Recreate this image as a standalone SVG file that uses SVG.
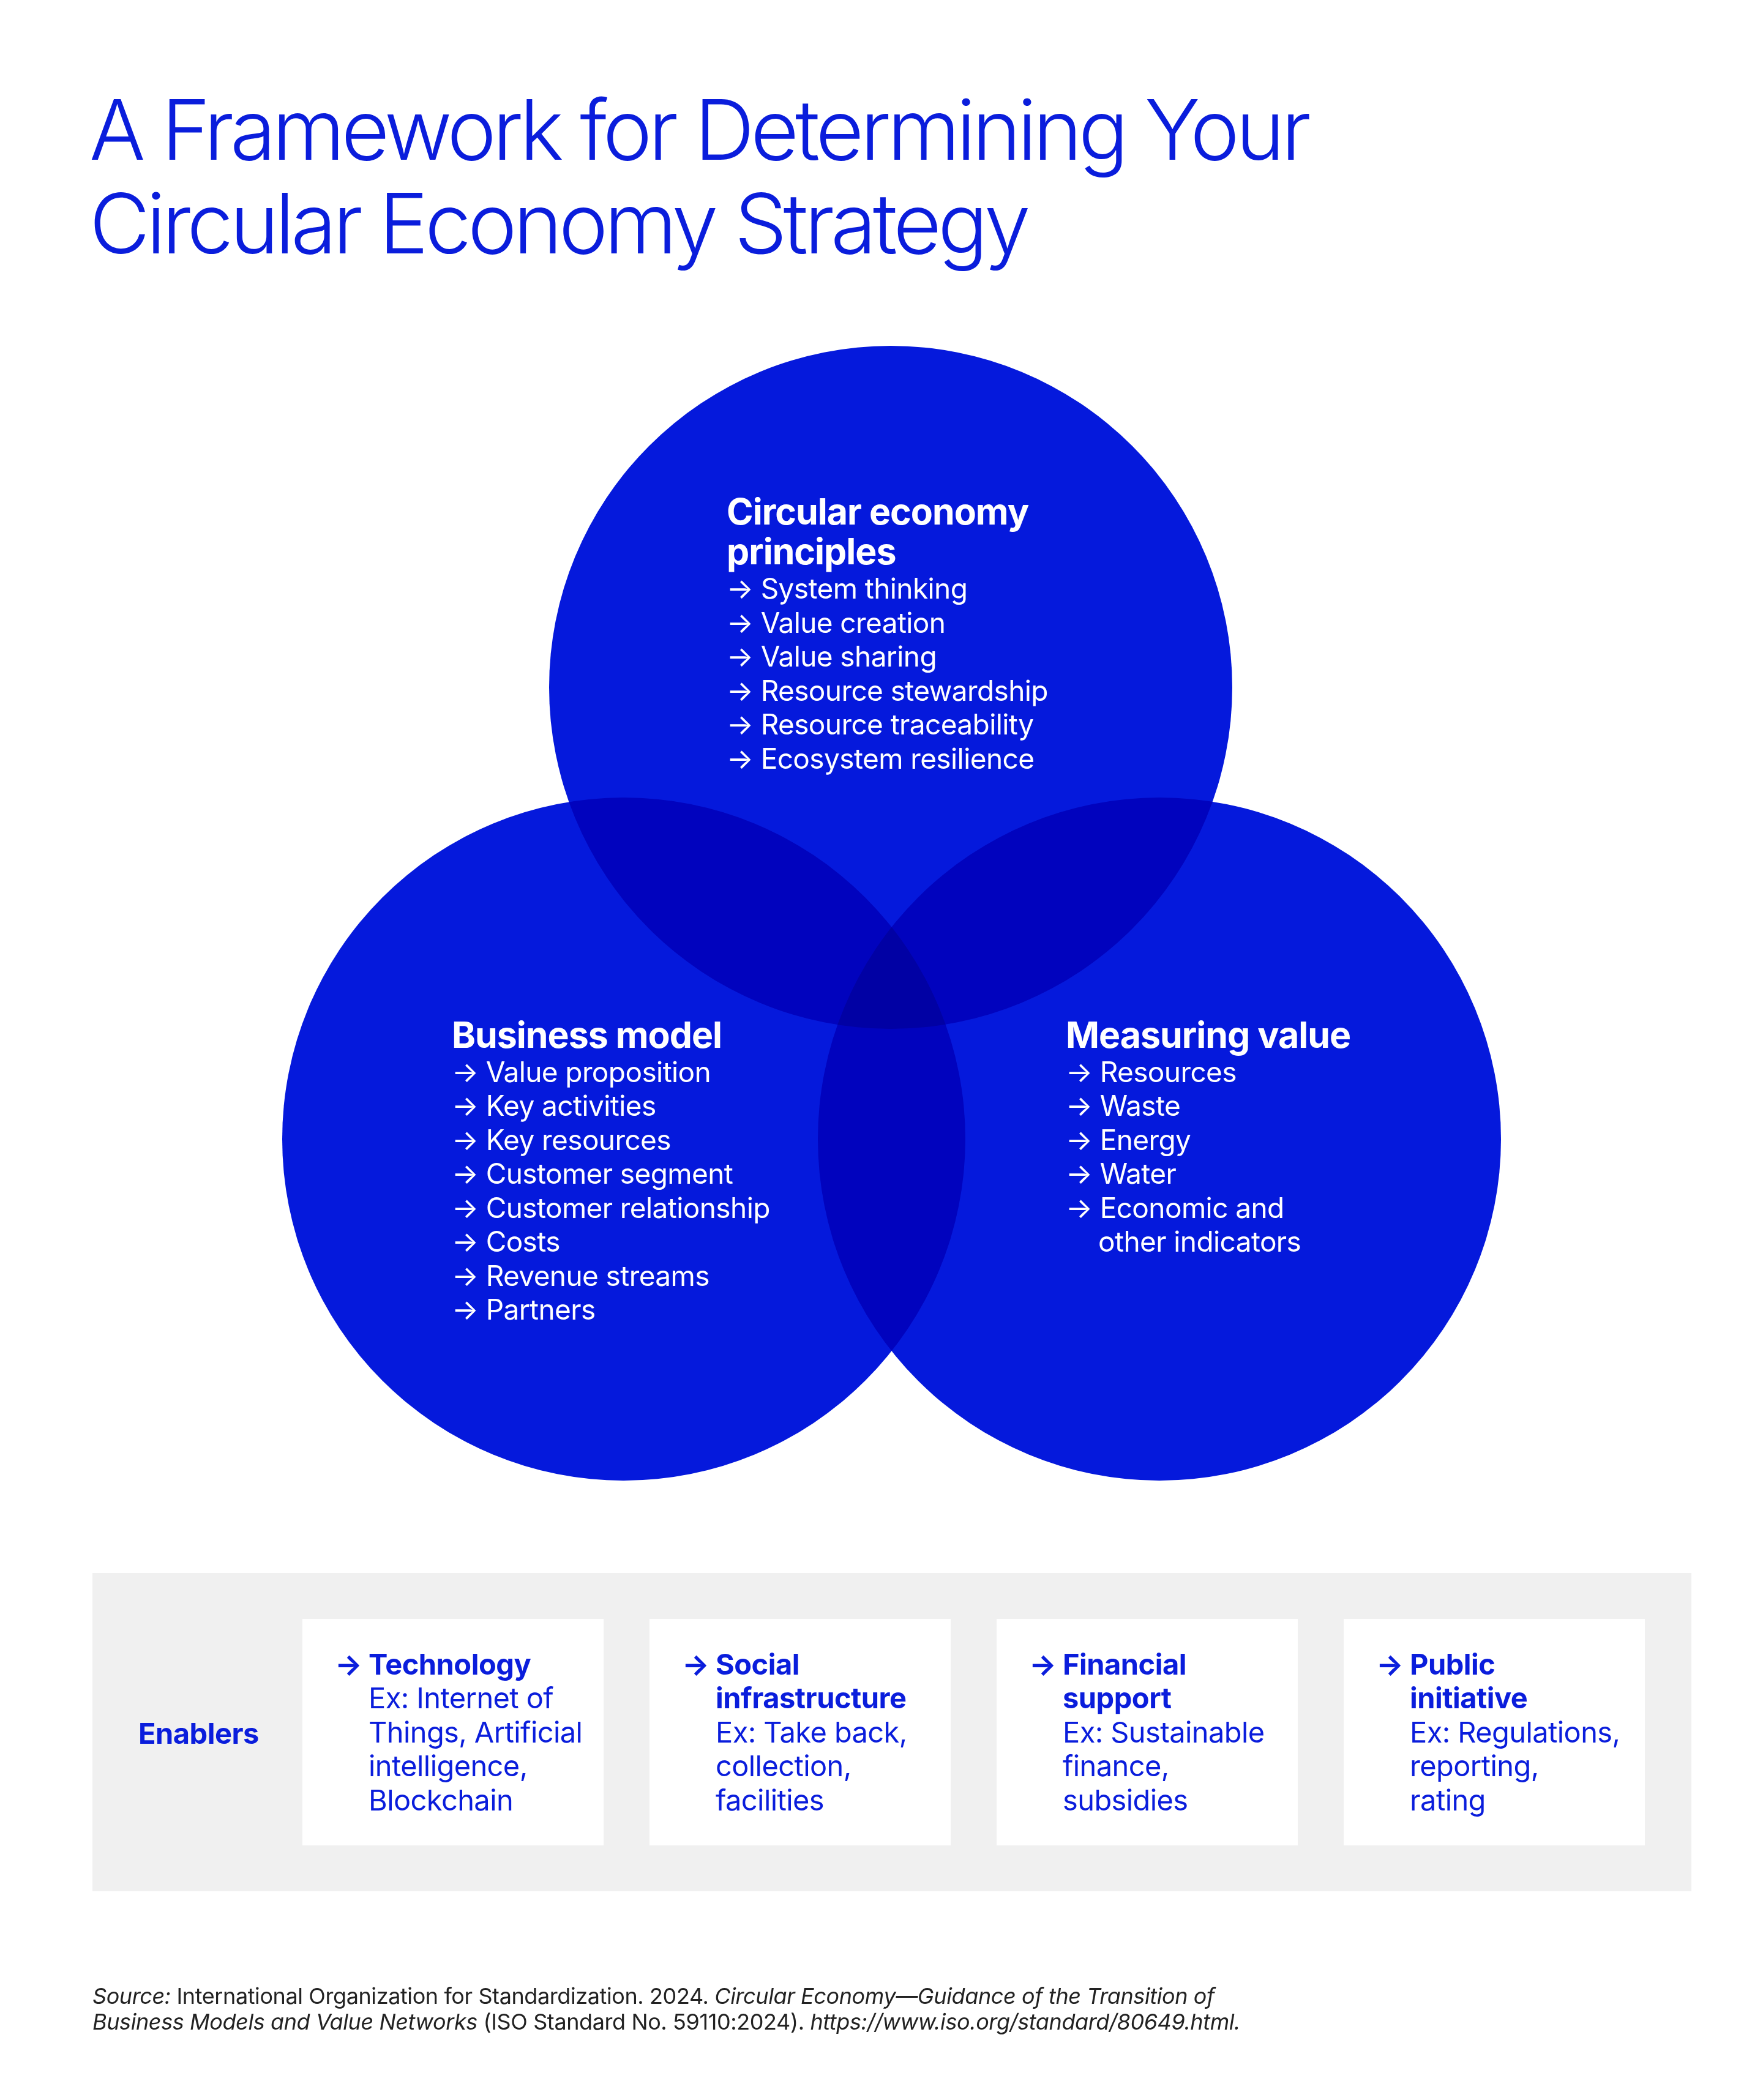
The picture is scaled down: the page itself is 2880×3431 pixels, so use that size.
<svg xmlns="http://www.w3.org/2000/svg" width="2880" height="3431" viewBox="0 0 2880 3431">
<style>
text{font-family:Inter,"Liberation Sans","DejaVu Sans",sans-serif}
.t{font-size:136px;font-weight:300;fill:#0a1ddc;letter-spacing:-6px}
.c{fill:#0519dc;mix-blend-mode:multiply}
.h{font-size:59px;font-weight:700;fill:#fff;letter-spacing:-1px}
.i{font-size:46px;fill:#fff;letter-spacing:-0.6px}
.eh{font-size:47px;font-weight:700;fill:#0a1ddc;letter-spacing:-0.5px}
.e{font-size:47px;fill:#0a1ddc;letter-spacing:-0.6px}
.s{font-size:36px;fill:#222;letter-spacing:-0.4px}
</style>
<rect width="2880" height="3431" fill="#fff"/>
<text class="t" x="146" y="261">A Framework for Determining Your</text>
<text class="t" x="146" y="414">Circular Economy Strategy</text>
<g id="circles" style="isolation:isolate">
<circle id="c-top" class="c" cx="1455" cy="1123" r="558"/>
<circle id="c-left" class="c" cx="1019" cy="1861" r="558"/>
<circle id="c-right" class="c" cx="1894" cy="1861" r="558"/>
</g>
<g id="n-principles">
<text class="h" x="1187" y="857">Circular economy</text>
<text class="h" x="1187" y="922">principles</text>
<text class="i" x="1187" y="978">→ System thinking</text>
<text class="i" x="1187" y="1034">→ Value creation</text>
<text class="i" x="1187" y="1089">→ Value sharing</text>
<text class="i" x="1187" y="1145">→ Resource stewardship</text>
<text class="i" x="1187" y="1200">→ Resource traceability</text>
<text class="i" x="1187" y="1256">→ Ecosystem resilience</text>
</g>
<g id="n-business">
<text class="h" x="738" y="1712">Business model</text>
<text class="i" x="738" y="1768">→ Value proposition</text>
<text class="i" x="738" y="1823">→ Key activities</text>
<text class="i" x="738" y="1879">→ Key resources</text>
<text class="i" x="738" y="1934">→ Customer segment</text>
<text class="i" x="738" y="1990">→ Customer relationship</text>
<text class="i" x="738" y="2045">→ Costs</text>
<text class="i" x="738" y="2101">→ Revenue streams</text>
<text class="i" x="738" y="2156">→ Partners</text>
</g>
<g id="n-measuring">
<text class="h" x="1741" y="1712">Measuring value</text>
<text class="i" x="1741" y="1768">→ Resources</text>
<text class="i" x="1741" y="1823">→ Waste</text>
<text class="i" x="1741" y="1879">→ Energy</text>
<text class="i" x="1741" y="1934">→ Water</text>
<text class="i" x="1741" y="1990">→ Economic and</text>
<text class="i" x="1794" y="2045">other indicators</text>
</g>
<g id="connectors"/>
<g id="enablers">
<rect x="151" y="2570" width="2612" height="520" fill="#f0f0f0"/>
<text class="eh" x="226" y="2849">Enablers</text>
</g>
<g id="n-tech">
<rect x="494" y="2645" width="492" height="370" fill="#fff"/>
<text class="eh" x="547" y="2736">→ Technology</text>
<text class="e" x="602" y="2791">Ex: Internet of</text>
<text class="e" x="602" y="2847">Things, Artificial</text>
<text class="e" x="602" y="2902">intelligence,</text>
<text class="e" x="602" y="2958">Blockchain</text>
</g>
<g id="n-social">
<rect x="1061" y="2645" width="492" height="370" fill="#fff"/>
<text class="eh" x="1114" y="2736">→ Social</text>
<text class="eh" x="1169" y="2791">infrastructure</text>
<text class="e" x="1169" y="2847">Ex: Take back,</text>
<text class="e" x="1169" y="2902">collection,</text>
<text class="e" x="1169" y="2958">facilities</text>
</g>
<g id="n-financial">
<rect x="1628" y="2645" width="492" height="370" fill="#fff"/>
<text class="eh" x="1681" y="2736">→ Financial</text>
<text class="eh" x="1736" y="2791">support</text>
<text class="e" x="1736" y="2847">Ex: Sustainable</text>
<text class="e" x="1736" y="2902">finance,</text>
<text class="e" x="1736" y="2958">subsidies</text>
</g>
<g id="n-public">
<rect x="2195" y="2645" width="492" height="370" fill="#fff"/>
<text class="eh" x="2248" y="2736">→ Public</text>
<text class="eh" x="2303" y="2791">initiative</text>
<text class="e" x="2303" y="2847">Ex: Regulations,</text>
<text class="e" x="2303" y="2902">reporting,</text>
<text class="e" x="2303" y="2958">rating</text>
</g>
<g id="source">
<text class="s" x="151" y="3274"><tspan font-style="italic">Source:</tspan> International Organization for Standardization. 2024. <tspan font-style="italic">Circular Economy—Guidance of the Transition of</tspan></text>
<text class="s" x="151" y="3316"><tspan font-style="italic">Business Models and Value Networks</tspan> (ISO Standard No. 59110:2024). <tspan font-style="italic">https://www.iso.org/standard/80649.html.</tspan></text>
</g>
</svg>
